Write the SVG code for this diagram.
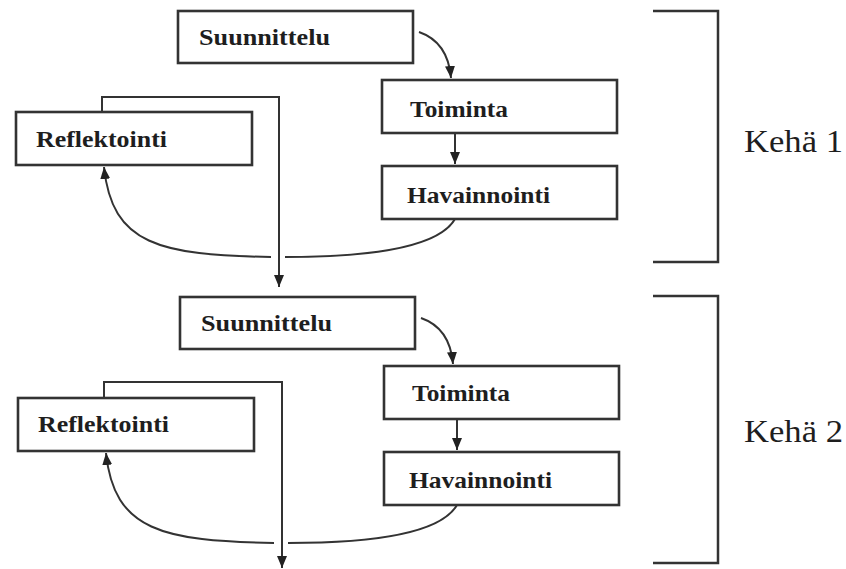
<svg xmlns="http://www.w3.org/2000/svg" width="846" height="569" viewBox="0 0 846 569">
<style>
.box{fill:#fff;stroke:#333;stroke-width:2.6}
.lbl{font-family:"Liberation Serif",serif;font-weight:bold;font-size:23px;fill:#1e1e1e}
.keha{font-family:"Liberation Serif",serif;font-size:31px;fill:#1e1e1e}
.con{fill:none;stroke:#333;stroke-width:2}
.br{fill:none;stroke:#333;stroke-width:2.5}
</style>
<defs>
<marker id="ah" viewBox="0 0 12 10" refX="12" refY="5" markerWidth="12" markerHeight="11" markerUnits="userSpaceOnUse" orient="auto">
<path d="M0,0 L12,5 L0,10 z" fill="#222"/>
</marker>
</defs>
<rect width="846" height="569" fill="#fff"/>
<g id="connectors">
<path class="con" d="M419,32 Q448,42 451,78" marker-end="url(#ah)"/>
<path class="con" d="M455,133 V164" marker-end="url(#ah)"/>
<path class="con" d="M455,219 C440,245 380,257 285,257"/>
<path class="con" d="M271,257 C160,255 112,245 104,167" marker-end="url(#ah)"/>
<path class="con" d="M102,112 V97 H279 V287" marker-end="url(#ah)"/>
<path class="con" d="M421,318 Q450,328 453,364" marker-end="url(#ah)"/>
<path class="con" d="M457,419 V450" marker-end="url(#ah)"/>
<path class="con" d="M457,505 C442,531 383,543 288,543"/>
<path class="con" d="M274,543 C163,541 114,531 106,453" marker-end="url(#ah)"/>
<path class="con" d="M104,398 V382 H282 V568" marker-end="url(#ah)"/>
</g>
<g id="suunnittelu1"><rect class="box" x="178" y="11" width="235" height="52"/><text class="lbl" x="199" y="45" textLength="131" lengthAdjust="spacingAndGlyphs">Suunnittelu</text></g>
<g id="toiminta1"><rect class="box" x="382" y="80" width="235" height="53"/><text class="lbl" x="410" y="117" textLength="98" lengthAdjust="spacingAndGlyphs">Toiminta</text></g>
<g id="havainnointi1"><rect class="box" x="382" y="166" width="235" height="53"/><text class="lbl" x="407" y="203" textLength="143" lengthAdjust="spacingAndGlyphs">Havainnointi</text></g>
<g id="reflektointi1"><rect class="box" x="16" y="112" width="236" height="53"/><text class="lbl" x="36" y="147" textLength="131" lengthAdjust="spacingAndGlyphs">Reflektointi</text></g>
<g id="suunnittelu2"><rect class="box" x="180" y="297" width="235" height="52"/><text class="lbl" x="201" y="331" textLength="131" lengthAdjust="spacingAndGlyphs">Suunnittelu</text></g>
<g id="toiminta2"><rect class="box" x="384" y="366" width="235" height="53"/><text class="lbl" x="412" y="401" textLength="98" lengthAdjust="spacingAndGlyphs">Toiminta</text></g>
<g id="havainnointi2"><rect class="box" x="384" y="452" width="235" height="53"/><text class="lbl" x="409" y="488" textLength="143" lengthAdjust="spacingAndGlyphs">Havainnointi</text></g>
<g id="reflektointi2"><rect class="box" x="18" y="398" width="236" height="53"/><text class="lbl" x="38" y="432" textLength="131" lengthAdjust="spacingAndGlyphs">Reflektointi</text></g>
<g id="keha1"><path class="br" d="M653,11 H718 V262 H653"/><text class="keha" x="744" y="152" textLength="99" lengthAdjust="spacingAndGlyphs">Kehä 1</text></g>
<g id="keha2"><path class="br" d="M653,296 H718 V563 H653"/><text class="keha" x="744" y="442" textLength="99" lengthAdjust="spacingAndGlyphs">Kehä 2</text></g>
</svg>
